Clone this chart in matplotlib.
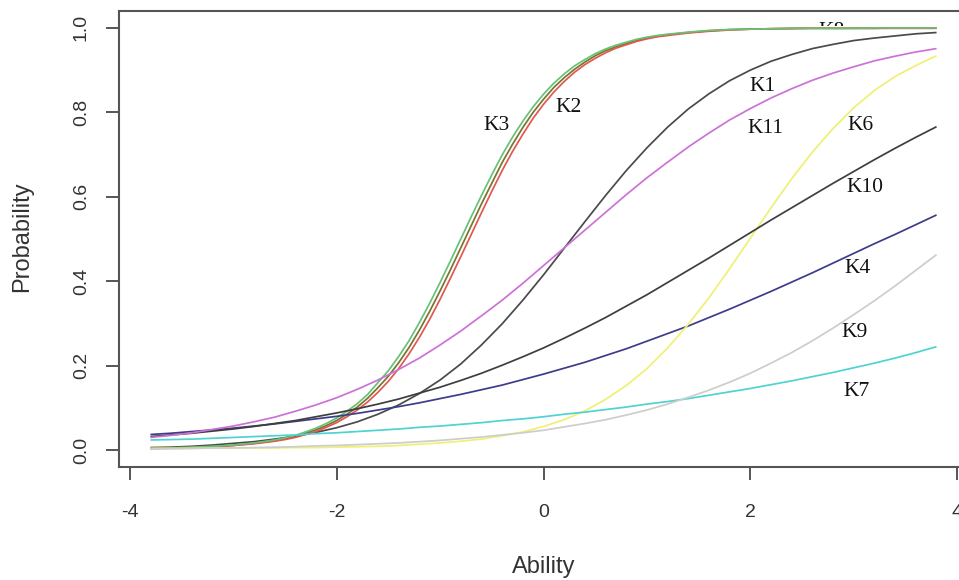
import matplotlib
matplotlib.use("Agg")
import matplotlib.pyplot as plt
from matplotlib.patches import Rectangle

# Ability grid (x) for the flatter item curves
ability = [-3.8, -3.6, -3.4, -3.2, -3.0, -2.8, -2.6, -2.4, -2.2, -2.0,
           -1.8, -1.6, -1.4, -1.2, -1.0, -0.8, -0.6, -0.4, -0.2, 0.0,
           0.2, 0.4, 0.6, 0.8, 1.0, 1.2, 1.4, 1.6, 1.8, 2.0,
           2.2, 2.4, 2.6, 2.8, 3.0, 3.2, 3.4, 3.6, 3.8]
# Denser ability grid for the steep items (K2, K3, K8)
ability_fine = [-3.8, -3.6, -3.4, -3.2, -3.0, -2.8, -2.6,
                -2.5, -2.4, -2.3, -2.2, -2.1, -2.0, -1.9, -1.8, -1.7, -1.6,
                -1.5, -1.4, -1.3, -1.2, -1.1, -1.0, -0.9, -0.8, -0.7, -0.6,
                -0.5, -0.4, -0.3, -0.2, -0.1, 0.0, 0.1, 0.2, 0.3, 0.4,
                0.5, 0.6, 0.7, 0.8, 0.9, 1.0, 1.1,
                1.2, 1.4, 1.6, 1.8, 2.0, 2.2, 2.4, 2.6, 2.8, 3.0,
                3.2, 3.4, 3.6, 3.8]

K1 = [0.006, 0.007, 0.009, 0.012, 0.016, 0.020, 0.026, 0.033, 0.042, 0.053,
      0.067, 0.085, 0.107, 0.134, 0.166, 0.204, 0.249, 0.299, 0.355, 0.415,
      0.478, 0.541, 0.603, 0.662, 0.716, 0.765, 0.808, 0.844, 0.875, 0.900,
      0.921, 0.937, 0.951, 0.961, 0.970, 0.976, 0.981, 0.986, 0.989]
K2 = [0.004, 0.005, 0.006, 0.008, 0.011, 0.015, 0.021,
      0.025, 0.030, 0.037, 0.044, 0.054, 0.065, 0.079, 0.095, 0.114, 0.137,
      0.163, 0.193, 0.228, 0.267, 0.310, 0.357, 0.407, 0.458, 0.510, 0.562,
      0.613, 0.662, 0.707, 0.748, 0.786, 0.819, 0.848, 0.873, 0.895, 0.913,
      0.928, 0.941, 0.952, 0.960, 0.968, 0.974, 0.979,
      0.982, 0.988, 0.992, 0.995, 0.997, 0.998, 0.998, 0.999, 0.999, 0.999,
      0.999, 0.999, 0.999, 0.999]
K3 = [0.004, 0.005, 0.007, 0.009, 0.012, 0.017, 0.024,
      0.029, 0.035, 0.043, 0.052, 0.063, 0.076, 0.092, 0.110, 0.132, 0.160,
      0.188, 0.222, 0.259, 0.302, 0.348, 0.397, 0.448, 0.500, 0.552, 0.603,
      0.652, 0.699, 0.741, 0.779, 0.813, 0.843, 0.869, 0.891, 0.910, 0.925,
      0.939, 0.950, 0.959, 0.966, 0.973, 0.978, 0.982,
      0.985, 0.990, 0.994, 0.996, 0.997, 0.998, 0.999, 0.999, 0.999, 0.999,
      1.000, 1.000, 1.000, 1.000]
K8 = [0.004, 0.005, 0.006, 0.008, 0.011, 0.016, 0.022,
      0.027, 0.032, 0.040, 0.048, 0.058, 0.070, 0.085, 0.102, 0.123, 0.148,
      0.175, 0.207, 0.243, 0.284, 0.329, 0.377, 0.427, 0.479, 0.531, 0.583,
      0.632, 0.681, 0.724, 0.764, 0.800, 0.831, 0.859, 0.882, 0.902, 0.919,
      0.934, 0.946, 0.955, 0.963, 0.970, 0.976, 0.980,
      0.984, 0.989, 0.993, 0.996, 0.997, 0.998, 0.999, 0.999, 0.999, 0.999,
      0.999, 1.000, 1.000, 1.000]
K4 = [0.037, 0.040, 0.044, 0.048, 0.052, 0.057, 0.062, 0.068, 0.074, 0.080,
      0.087, 0.095, 0.103, 0.112, 0.122, 0.132, 0.143, 0.154, 0.167, 0.180,
      0.194, 0.208, 0.224, 0.240, 0.258, 0.276, 0.294, 0.314, 0.334, 0.355,
      0.376, 0.398, 0.420, 0.443, 0.466, 0.489, 0.511, 0.534, 0.557]
K6 = [0.004, 0.004, 0.004, 0.005, 0.005, 0.005, 0.005, 0.006, 0.006, 0.007,
      0.008, 0.009, 0.011, 0.014, 0.017, 0.021, 0.026, 0.034, 0.043, 0.056,
      0.072, 0.093, 0.120, 0.153, 0.193, 0.242, 0.298, 0.361, 0.430, 0.502,
      0.574, 0.643, 0.706, 0.762, 0.811, 0.852, 0.885, 0.911, 0.934]
K7 = [0.024, 0.025, 0.026, 0.028, 0.030, 0.032, 0.034, 0.036, 0.039, 0.041,
      0.044, 0.047, 0.050, 0.054, 0.057, 0.061, 0.065, 0.070, 0.074, 0.079,
      0.085, 0.090, 0.096, 0.102, 0.109, 0.115, 0.122, 0.130, 0.138, 0.146,
      0.155, 0.164, 0.174, 0.184, 0.195, 0.206, 0.218, 0.231, 0.245]
K9 = [0.003, 0.003, 0.004, 0.005, 0.005, 0.006, 0.007, 0.008, 0.010, 0.011,
      0.013, 0.015, 0.017, 0.020, 0.023, 0.027, 0.031, 0.036, 0.041, 0.047,
      0.055, 0.063, 0.072, 0.083, 0.095, 0.109, 0.125, 0.142, 0.161, 0.182,
      0.206, 0.231, 0.259, 0.289, 0.321, 0.354, 0.389, 0.426, 0.463]
K10 = [0.032, 0.036, 0.040, 0.045, 0.050, 0.056, 0.063, 0.070, 0.079, 0.088,
       0.098, 0.109, 0.121, 0.135, 0.149, 0.165, 0.182, 0.201, 0.221, 0.242,
       0.265, 0.289, 0.314, 0.341, 0.368, 0.397, 0.426, 0.455, 0.485, 0.515,
       0.545, 0.574, 0.603, 0.632, 0.660, 0.688, 0.715, 0.741, 0.766]
K11 = [0.030, 0.035, 0.041, 0.049, 0.057, 0.067, 0.078, 0.092, 0.107, 0.124,
       0.144, 0.166, 0.191, 0.218, 0.249, 0.282, 0.318, 0.355, 0.395, 0.437,
       0.479, 0.521, 0.563, 0.605, 0.645, 0.682, 0.718, 0.751, 0.782, 0.809,
       0.834, 0.856, 0.876, 0.893, 0.908, 0.922, 0.933, 0.943, 0.951]

item_names = ["K8", "K1", "K2", "K3", "K4", "K6", "K7", "K9", "K10", "K11"]
item_x = [ability_fine, ability, ability_fine, ability_fine, ability,
          ability, ability, ability, ability, ability]
item_values = [K8, K1, K2, K3, K4, K6, K7, K9, K10, K11]
item_colors = ["#7a7430", "#4a4a4a", "#e0584e", "#66c276", "#3c3c8a",
               "#f0f074", "#4ed3d3", "#cdcdcd", "#3e3e3e", "#cc72d6"]

# label positions (data coords)
label_names = ["K3", "K2", "K1", "K11", "K6", "K10", "K4", "K9", "K7"]
label_x = [-0.45, 0.24, 2.12, 2.15, 3.06, 3.11, 3.04, 3.01, 3.03]
label_y = [0.768, 0.812, 0.862, 0.762, 0.770, 0.622, 0.430, 0.278, 0.140]

W, H = 959, 580
fig = plt.figure(figsize=(W / 100, H / 100), dpi=100)
L, R, T, B = 119, 968, 11, 467
ax = fig.add_axes([L / W, (H - B) / H, (R - L) / W, (B - T) / H])
ax.set_xlim(-4.104, 4.104)
ax.set_ylim(-0.04, 1.04)

for xs, vals, col in zip(item_x, item_values, item_colors):
    ax.plot(xs, vals, color=col, lw=1.25, solid_capstyle="butt",
            solid_joinstyle="round", zorder=2)

serif = ["Liberation Serif", "DejaVu Serif"]
for n, x, y in zip(label_names, label_x, label_y):
    ax.text(x, y, n, ha="center", va="center", fontsize=15.5,
            family=serif, color="#111111", zorder=3)

# partially hidden label at the top (only the upper part shows)
t = ax.text(2.79, 0.992, "K8", ha="center", va="center", fontsize=15.5,
            family=serif, color="#111111", zorder=1)
clip = Rectangle((2.5, 1.004), 0.6, 0.1, transform=ax.transData)
t.set_clip_on(True)
t.set_clip_path(clip)

sans = ["Liberation Sans", "DejaVu Sans"]
ax.set_xticks([-4, -2, 0, 2, 4])
ax.set_xticklabels(["-4", "-2", "0", "2", "4"])
ax.set_yticks([0.0, 0.2, 0.4, 0.6, 0.8, 1.0])
ax.set_yticklabels(["0.0", "0.2", "0.4", "0.6", "0.8", "1.0"], rotation=90,
                   va="center")
for lab in ax.get_xticklabels() + ax.get_yticklabels():
    lab.set_family(sans)
    lab.set_fontsize(14)
    lab.set_color("#333333")

frame_col = "#555555"
for s in ax.spines.values():
    s.set_color(frame_col)
    s.set_linewidth(1.5)
ax.tick_params(axis="both", direction="out", length=9.5, width=1.4,
               color=frame_col)
ax.tick_params(axis="x", pad=17)
ax.tick_params(axis="y", pad=11.5)

fig.text(543.6 / W, 1 - 567 / H, "Ability", ha="center", va="center",
         fontsize=17, family=sans, color="#333333")
fig.text(22 / W, 1 - 237 / H, "Probability", ha="center", va="center",
         rotation=90, fontsize=17, family=sans, color="#333333")

fig.savefig("out.png", dpi=100)
